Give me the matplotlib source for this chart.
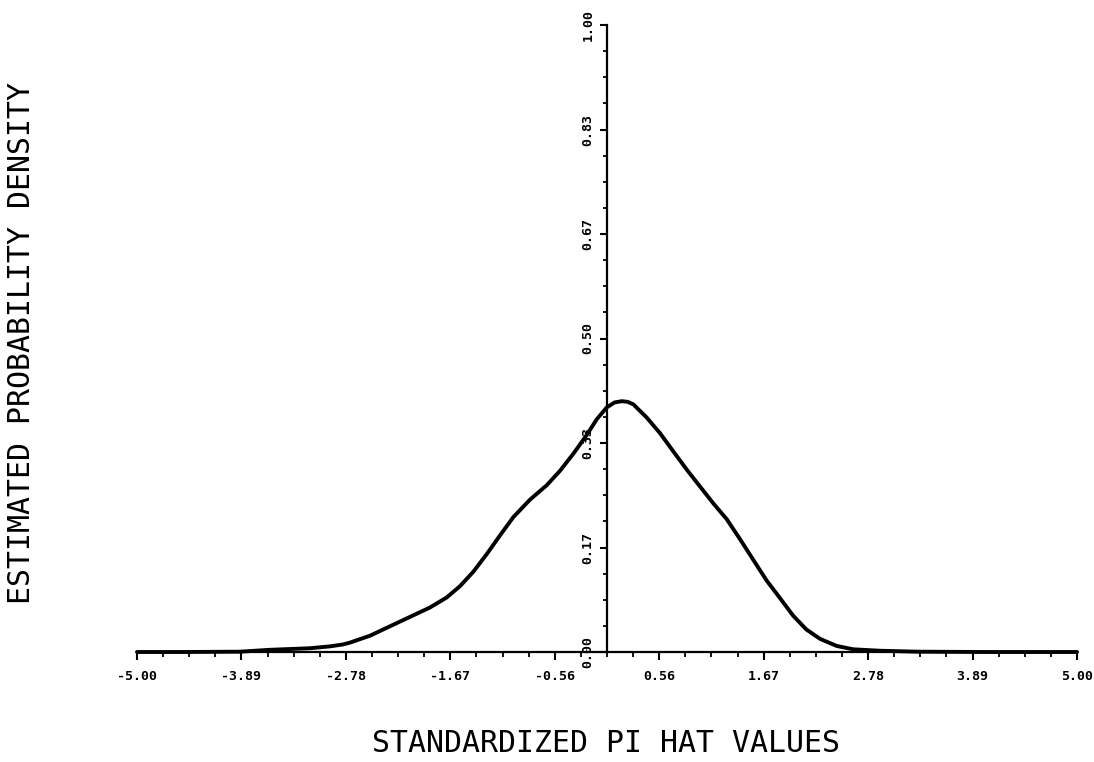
import numpy as np
import matplotlib
matplotlib.use("Agg")
import matplotlib.pyplot as plt

# ---- data ----
x_vals = [-5.0, -4.5, -3.904, -3.585, -3.16, -2.947, -2.809, -2.734, -2.521, -2.309,
          -2.096, -1.883, -1.705, -1.564, -1.422, -1.28, -1.138, -0.997, -0.819,
          -0.641, -0.5, -0.359, -0.216, -0.11, -0.003, 0.08, 0.156, 0.22, 0.28,
          0.422, 0.564, 0.705, 0.848, 0.989, 1.131, 1.273, 1.415, 1.556, 1.698,
          1.84, 1.98, 2.12, 2.266, 2.444, 2.62, 2.904, 3.3, 4.0, 5.0]
density = [0.0, 0.0, 0.0005, 0.0035, 0.006, 0.009, 0.012, 0.015, 0.026, 0.041,
           0.056, 0.071, 0.087, 0.105, 0.128, 0.156, 0.186, 0.215, 0.243,
           0.266, 0.289, 0.316, 0.346, 0.371, 0.390, 0.398, 0.400, 0.399, 0.395,
           0.374, 0.349, 0.320, 0.291, 0.264, 0.237, 0.212, 0.180, 0.147, 0.114,
           0.086, 0.058, 0.036, 0.021, 0.0096, 0.0043, 0.002, 0.0005, 0.0, 0.0]

x_ticks = [-5.0, -3.889, -2.778, -1.667, -0.556, 0.556, 1.667, 2.778, 3.889, 5.0]
x_tick_labels = ["-5.00", "-3.89", "-2.78", "-1.67", "-0.56",
                 "0.56", "1.67", "2.78", "3.89", "5.00"]
y_ticks = [0.0, 1/6, 2/6, 3/6, 4/6, 5/6, 1.0]
y_tick_labels = ["0.00", "0.17", "0.33", "0.50", "0.67", "0.83", "1.00"]

x_title = "STANDARDIZED PI HAT VALUES"
y_title = "ESTIMATED PROBABILITY DENSITY"

# ---- figure ----
W, H = 1094, 762
fig = plt.figure(figsize=(W / 100, H / 100), dpi=100)
ax = fig.add_axes([137 / W, (H - 652) / H, (1077 - 137) / W, (652 - 25) / H])
ax.set_xlim(-5, 5)
ax.set_ylim(0, 1)
ax.patch.set_alpha(0)

ax.plot(x_vals, density, color="black", lw=2.8, solid_capstyle="round",
        solid_joinstyle="round", zorder=5, clip_on=False)

for s in ("top", "right"):
    ax.spines[s].set_visible(False)
ax.spines["left"].set_position(("data", 0))
ax.spines["left"].set_linewidth(1.6)
ax.spines["bottom"].set_linewidth(1.6)

ax.set_xticks(x_ticks)
ax.set_xticklabels(x_tick_labels)
ax.set_xticks(np.linspace(-5, 5, 37), minor=True)
ax.set_yticks(y_ticks)
ax.set_yticklabels(y_tick_labels, rotation=90, va="center")
ax.set_yticks(np.linspace(0, 1, 25), minor=True)

for lab in ax.get_xticklabels() + ax.get_yticklabels():
    lab.set_fontfamily("DejaVu Sans Mono")
    lab.set_fontweight("bold")
    lab.set_fontsize(9.5)

ax.tick_params(axis="x", which="major", direction="out", length=6, width=1.5, pad=7)
ax.tick_params(axis="x", which="minor", direction="out", length=3.5, width=1.3)
ax.tick_params(axis="y", which="major", direction="out", length=5, width=1.5, pad=4)
ax.tick_params(axis="y", which="minor", direction="out", length=3, width=1.3)

fig.text(606 / W, (H - 744) / H, x_title, ha="center", va="center",
         family="DejaVu Sans Mono", fontsize=21.5)
fig.text(22 / W, (H - 343) / H, y_title, ha="center", va="center", rotation=90,
         family="DejaVu Sans Mono", fontsize=21.5)

fig.savefig("out.png", dpi=100)
